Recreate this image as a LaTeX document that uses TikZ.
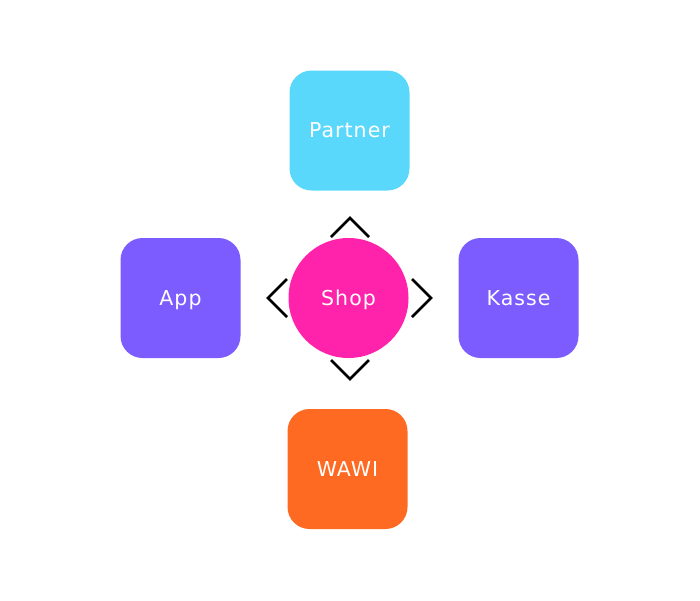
\documentclass[tikz,border=0pt]{standalone}
\usepackage{fontspec}
\setmainfont[LetterSpace=5]{DejaVu Sans}
\definecolor{cpartner}{HTML}{5AD8FC}
\definecolor{cpurple}{HTML}{7C5CFF}
\definecolor{cshop}{HTML}{FF22AA}
\definecolor{cwawi}{HTML}{FF6A22}
\begin{document}
\begin{tikzpicture}[x=1pt,y=-1pt,
  tile/.style={minimum width=120pt,minimum height=120pt,rounded corners=22pt,inner sep=0pt,text=white,font=\fontsize{20.5}{24}\selectfont,text height=14.5pt,text depth=0pt},
  hub/.style={circle,minimum size=120pt,inner sep=0pt,fill=cshop,text=white,font=\fontsize{20.5}{24}\selectfont,text height=14.5pt,text depth=0pt},
  chev/.style={line width=2.6pt,draw=black,line join=miter}]
\useasboundingbox (0,0) rectangle (700,600);
\node[tile,fill=cpartner] (partner) at (349.5,130.5) {Partner};
\node[tile,fill=cpurple] (app) at (180.5,298) {App};
\node[tile,fill=cpurple] (kasse) at (518.5,298) {Kasse};
\node[tile,fill=cwawi] (wawi) at (347.5,469) {WAWI};
\node[hub] (shop) at (348.5,298) {Shop};
% chevrons
\coordinate (ta) at (350,218); \coordinate (tl) at (331,237); \coordinate (tr) at (369,237);
\coordinate (ba) at (350,379); \coordinate (bl) at (331,360); \coordinate (br) at (369,360);
\coordinate (la) at (268,298); \coordinate (lt) at (287,279); \coordinate (lb) at (287,317);
\coordinate (ra) at (431,298); \coordinate (rt) at (412,279); \coordinate (rb) at (412,317);
\draw[chev] (tl) -- (ta) -- (tr);
\draw[chev] (bl) -- (ba) -- (br);
\draw[chev] (lt) -- (la) -- (lb);
\draw[chev] (rt) -- (ra) -- (rb);
\end{tikzpicture}
\end{document}
